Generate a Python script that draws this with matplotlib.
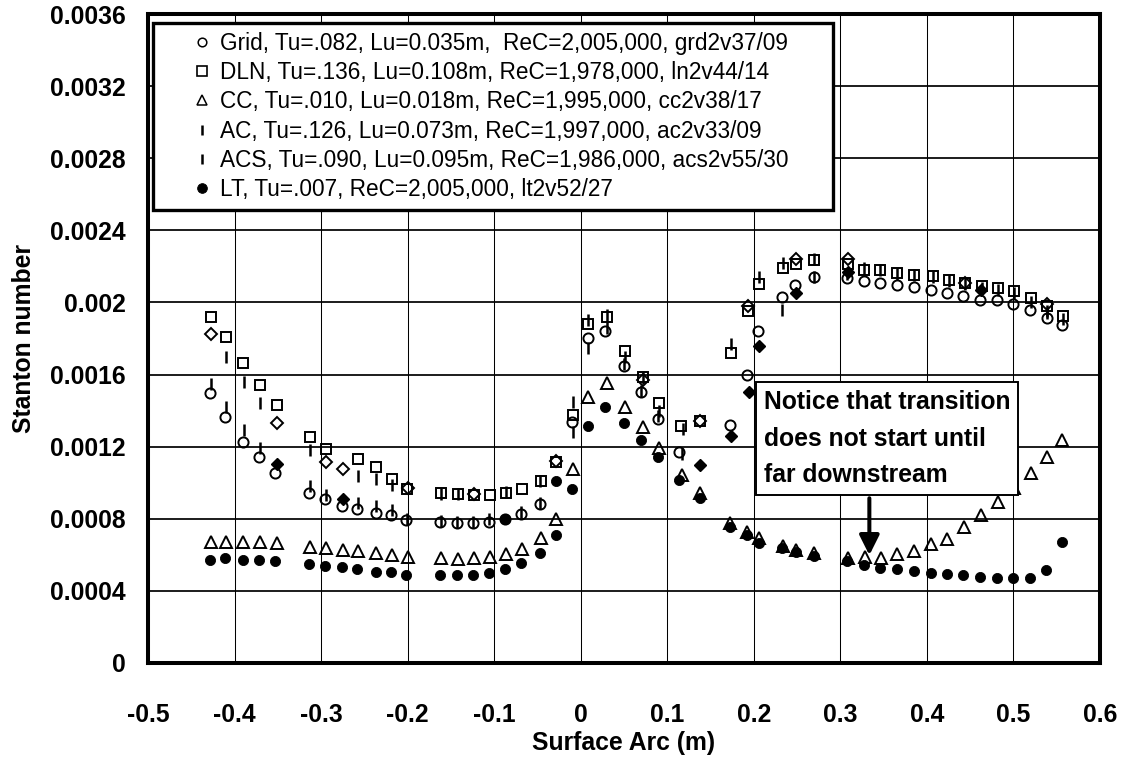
import matplotlib
matplotlib.use('Agg')
import matplotlib.pyplot as plt
from matplotlib.lines import Line2D
from matplotlib import font_manager

# Stanton number vs surface arc
grid_x = [-0.428, -0.411, -0.390, -0.372, -0.353, -0.314, -0.296, -0.276, -0.258, -0.237, -0.219, -0.202,
          -0.163, -0.143, -0.124, -0.106, -0.087, -0.069, -0.047, -0.010, 0.0085, 0.0286, 0.050, 0.070,
          0.089, 0.114, 0.173, 0.192, 0.205, 0.233, 0.248, 0.270, 0.308, 0.327, 0.346, 0.366, 0.385,
          0.405, 0.423, 0.442, 0.461, 0.481, 0.4995, 0.5196, 0.5386, 0.5556]
grid_y = [0.001497, 0.001363, 0.001228, 0.001141, 0.001052, 0.000941, 0.000908, 0.000871, 0.000852, 0.00083,
          0.000819, 0.000793, 0.000783, 0.000774, 0.000774, 0.000783, 0.000797, 0.000826, 0.000882, 0.001339,
          0.001802, 0.001839, 0.001648, 0.001506, 0.001352, 0.001172, 0.00132, 0.001598, 0.001844, 0.00203,
          0.002098, 0.002141, 0.002135, 0.002117, 0.002108, 0.002098, 0.002086, 0.002071, 0.002052, 0.002034,
          0.002015, 0.002015, 0.001993, 0.00196, 0.001913, 0.001876]

dln_x = [-0.427, -0.410, -0.390, -0.371, -0.351, -0.313, -0.294, -0.257, -0.236, -0.218, -0.201, -0.162,
         -0.142, -0.123, -0.105, -0.086, -0.068, -0.046, -0.028, -0.009, 0.0085, 0.0298, 0.051, 0.072,
         0.090, 0.116, 0.138, 0.174, 0.193, 0.206, 0.234, 0.249, 0.270, 0.309, 0.327, 0.346, 0.366, 0.385,
         0.4067, 0.425, 0.444, 0.4635, 0.482, 0.5006, 0.5206, 0.539, 0.557]
dln_y = [0.001922, 0.001808, 0.001665, 0.001543, 0.001433, 0.001256, 0.001187, 0.001132, 0.001089, 0.001021,
         0.000963, 0.000941, 0.000937, 0.000932, 0.000932, 0.000945, 0.000963, 0.001011, 0.001115, 0.001376,
         0.00188, 0.001919, 0.001733, 0.001586, 0.001444, 0.001315, 0.001343, 0.001719, 0.00195, 0.002102,
         0.002191, 0.002215, 0.002233, 0.002215, 0.002182, 0.002178, 0.002163, 0.002154, 0.002148, 0.002126,
         0.002108, 0.002089, 0.00208, 0.002061, 0.002024, 0.001978, 0.001926]

cc_x = [-0.427, -0.410, -0.390, -0.371, -0.351, -0.313, -0.294, -0.275, -0.257, -0.236, -0.218, -0.200,
        -0.162, -0.142, -0.123, -0.105, -0.086, -0.068, -0.046, -0.028, -0.009, 0.0085, 0.030, 0.051, 0.072,
        0.090, 0.117, 0.138, 0.173, 0.192, 0.206, 0.234, 0.249, 0.270, 0.309, 0.329, 0.347, 0.366, 0.385,
        0.405, 0.423, 0.443, 0.4625, 0.482, 0.5006, 0.5206, 0.539, 0.556]
cc_y = [0.000672, 0.000672, 0.00067, 0.00067, 0.000665, 0.000644, 0.00064, 0.000628, 0.00062, 0.000608,
        0.000598, 0.00059, 0.00058, 0.000575, 0.00058, 0.000589, 0.000604, 0.00063, 0.000691, 0.000797,
        0.001074, 0.001474, 0.001552, 0.001419, 0.001311, 0.001191, 0.001043, 0.000941, 0.000778, 0.000728,
        0.000691, 0.000648, 0.000626, 0.000608, 0.00058, 0.000589, 0.000585, 0.000602, 0.000622, 0.00066,
        0.00069, 0.000756, 0.00082, 0.000894, 0.00097, 0.001052, 0.001141, 0.001237]

ac_x = [-0.410, -0.389, -0.371, -0.313, -0.257, -0.236, -0.218, -0.162, -0.142, -0.086, -0.047, -0.009,
        0.0085, 0.030, 0.051, 0.072, 0.090, 0.118, 0.174, 0.206, 0.234, 0.270, 0.327, 0.346, 0.366, 0.385,
        0.4067, 0.425, 0.444, 0.4635, 0.482, 0.5006, 0.5206, 0.539, 0.557]
ac_y = [0.00170, 0.00156, 0.00144, 0.00118, 0.00104, 0.00102, 0.00099, 0.00094, 0.00094, 0.00095, 0.00101,
        0.00145, 0.00190, 0.00193, 0.00170, 0.00158, 0.00140, 0.00130, 0.00177, 0.00214, 0.00222, 0.00224,
        0.00219, 0.00218, 0.00216, 0.00215, 0.00214, 0.00212, 0.00210, 0.00208, 0.00207, 0.00205, 0.00200,
        0.00195, 0.00191]

acs_x = [-0.427, -0.410, -0.389, -0.371, -0.313, -0.294, -0.257, -0.236, -0.218, -0.201, -0.162, -0.143,
         -0.124, -0.106, -0.069, -0.047, -0.009, 0.0085, 0.030, 0.050, 0.070, 0.089, 0.117, 0.233, 0.270,
         0.308, 0.539]
acs_y = [0.00155, 0.00142, 0.00129, 0.00119, 0.00098, 0.00093, 0.00089, 0.00087, 0.00085, 0.00080, 0.00079,
         0.00078, 0.00078, 0.00080, 0.00084, 0.00089, 0.00128, 0.00175, 0.00186, 0.00166, 0.00151, 0.00137,
         0.00116, 0.00196, 0.00214, 0.00216, 0.00194]

lt_x = [-0.428, -0.411, -0.390, -0.372, -0.353, -0.314, -0.296, -0.276, -0.258, -0.237, -0.219, -0.202,
        -0.163, -0.143, -0.124, -0.106, -0.087, -0.069, -0.047, -0.029, -0.010, 0.0085, 0.0286, 0.050, 0.070,
        0.089, 0.114, 0.138, 0.173, 0.192, 0.206, 0.233, 0.249, 0.270, 0.308, 0.327, 0.346, 0.366, 0.385,
        0.405, 0.423, 0.442, 0.461, 0.481, 0.4995, 0.5196, 0.538, 0.5556]
lt_y = [0.000571, 0.000583, 0.000571, 0.000571, 0.000565, 0.000548, 0.000539, 0.00053, 0.000519, 0.000506,
        0.000506, 0.000487, 0.000487, 0.000487, 0.000487, 0.000497, 0.000519, 0.000552, 0.000608, 0.000709,
        0.000963, 0.001317, 0.001419, 0.00133, 0.001237, 0.001141, 0.001015, 0.000913, 0.000752, 0.00071,
        0.000663, 0.000639, 0.000617, 0.000593, 0.000567, 0.000543, 0.000528, 0.000519, 0.00051, 0.000497,
        0.000491, 0.000487, 0.000478, 0.000474, 0.000474, 0.000474, 0.000515, 0.000672]

# extra symbols in the plot that have no legend entry
odia_x = [-0.427, -0.351, -0.294, -0.275, -0.200, -0.123, -0.028, 0.072, 0.138, 0.193, 0.249, 0.309, 0.444, 0.539]
odia_y = [0.001826, 0.001332, 0.001115, 0.001076, 0.00097, 0.00094, 0.00112, 0.00157, 0.00134, 0.00198,
          0.00224, 0.00224, 0.00211, 0.00199]
fdia_x = [-0.351, -0.275, 0.138, 0.174, 0.194, 0.2055, 0.249, 0.309, 0.4625]
fdia_y = [0.001104, 0.000908, 0.001098, 0.00126, 0.001506, 0.001756, 0.002052, 0.00217, 0.002067]
fdot_x = [-0.087, -0.029]
fdot_y = [0.000797, 0.00101]

labels = ["Grid, Tu=.082, Lu=0.035m,  ReC=2,005,000, grd2v37/09",
          "DLN, Tu=.136, Lu=0.108m, ReC=1,978,000, ln2v44/14",
          "CC, Tu=.010, Lu=0.018m, ReC=1,995,000, cc2v38/17",
          "AC, Tu=.126, Lu=0.073m, ReC=1,997,000, ac2v33/09",
          "ACS, Tu=.090, Lu=0.095m, ReC=1,986,000, acs2v55/30",
          "LT, Tu=.007, ReC=2,005,000, lt2v52/27"]

xticks = [-0.5, -0.4, -0.3, -0.2, -0.1, 0, 0.1, 0.2, 0.3, 0.4, 0.5, 0.6]
xtick_labels = ['-0.5', '-0.4', '-0.3', '-0.2', '-0.1', '0', '0.1', '0.2', '0.3', '0.4', '0.5', '0.6']
yticks = [0, 0.0004, 0.0008, 0.0012, 0.0016, 0.002, 0.0024, 0.0028, 0.0032, 0.0036]
ytick_labels = ['0', '0.0004', '0.0008', '0.0012', '0.0016', '0.002', '0.0024', '0.0028', '0.0032', '0.0036']

nota = "Notice that transition\ndoes not start until\nfar downstream"

nombres = {f.name for f in font_manager.fontManager.ttflist}
narrow = 'Liberation Sans Narrow' if 'Liberation Sans Narrow' in nombres else 'Liberation Sans'
plt.rcParams['font.family'] = ['Liberation Sans', 'DejaVu Sans']
tam = 17.8

fig = plt.figure(figsize=(11.21, 7.58), dpi=100)
ax = fig.add_axes([148 / 1121, 1 - 663 / 758, 952 / 1121, 649 / 758])

k = 'black'
ax.plot(grid_x, grid_y, ls='none', marker='o', ms=7.3, mfc='none', mec=k, mew=1.4)
ax.plot(dln_x, dln_y, ls='none', marker='s', ms=7.8, mfc='none', mec=k, mew=1.4)
ax.plot(cc_x, cc_y, ls='none', marker='^', ms=8.5, mfc='none', mec=k, mew=1.4)
ax.plot(odia_x, odia_y, ls='none', marker='D', ms=5.8, mfc='none', mec=k, mew=1.4)
ax.plot(ac_x, ac_y, ls='none', marker='|', ms=9.0, mec=k, mew=1.8)
ax.plot(acs_x, acs_y, ls='none', marker='|', ms=9.0, mec=k, mew=1.8)
ax.plot(fdia_x, fdia_y, ls='none', marker='D', ms=5.8, mfc=k, mec=k, mew=1.0)
ax.plot(lt_x, lt_y, ls='none', marker='o', ms=7.3, mfc=k, mec=k, mew=0.6)
ax.plot(fdot_x, fdot_y, ls='none', marker='o', ms=7.3, mfc=k, mec=k, mew=0.6)

ax.set_xlim(-0.5, 0.6)
ax.set_ylim(0, 0.0036)
ax.set_xticks(xticks)
ax.set_xticklabels(xtick_labels, family=narrow, weight='bold', fontsize=tam)
ax.set_yticks(yticks)
ax.set_yticklabels(ytick_labels, family=narrow, weight='bold', fontsize=tam)
ax.tick_params(axis='both', length=0)
ax.tick_params(axis='x', pad=28.5)
ax.tick_params(axis='y', pad=16)
ax.set_xlabel('Surface Arc (m)', family=narrow, weight='bold', fontsize=tam, labelpad=3)
ax.set_ylabel('Stanton number', family=narrow, weight='bold', fontsize=tam, labelpad=10)

ax.set_axisbelow(True)
ax.yaxis.grid(True, color=k, lw=1.25)
ax.xaxis.grid(True, color=k, lw=0.75)
for s in ax.spines.values():
    s.set_linewidth(2.9)

handles = [Line2D([], [], ls='none', marker='o', ms=6.2, mfc='none', mec=k, mew=1.1),
           Line2D([], [], ls='none', marker='s', ms=6.6, mfc='none', mec=k, mew=1.2),
           Line2D([], [], ls='none', marker='^', ms=7.0, mfc='none', mec=k, mew=1.1),
           Line2D([], [], ls='none', marker='|', ms=7.0, mec=k, mew=1.8),
           Line2D([], [], ls='none', marker='|', ms=7.0, mec=k, mew=1.8),
           Line2D([], [], ls='none', marker='o', ms=7.0, mfc=k, mec=k, mew=0.6)]
leg = ax.legend(handles, labels, loc='upper left', bbox_to_anchor=(0.00525, 0.5, 0.7143, 0.4861),
                mode='expand', borderaxespad=0, fontsize=16.3, handlelength=3.6, handletextpad=-1.0,
                borderpad=0.38, labelspacing=0.28, fancybox=False, framealpha=1, edgecolor=k)
leg.get_frame().set_linewidth(2.4)

ax.text(0.2115, 0.001245, nota, ha='left', va='center', family=narrow, weight='bold', fontsize=tam,
        linespacing=1.68, zorder=10,
        bbox=dict(boxstyle='square,pad=0.3', fc='white', ec=k, lw=1.4))
ax.annotate('', xy=(0.3335, 0.000598), xytext=(0.3335, 0.000914), zorder=11,
            arrowprops=dict(arrowstyle='-|>,head_length=12,head_width=6', mutation_scale=1,
                            lw=2.9, color=k, shrinkA=0, shrinkB=0))

fig.savefig('out.png', dpi=100)
